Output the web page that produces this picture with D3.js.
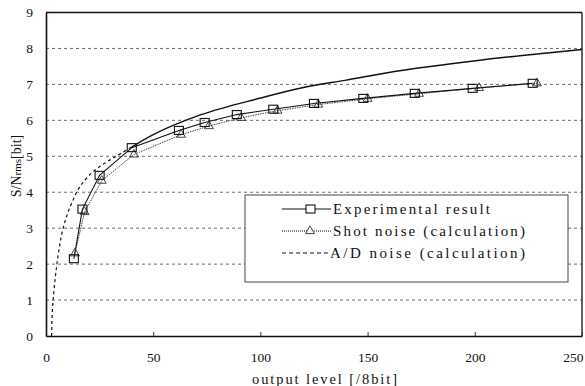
<!DOCTYPE html>
<html>
<head>
<meta charset="utf-8">
<script src="https://cdn.jsdelivr.net/npm/d3@7"></script>
<style>
  body { margin: 0; background: #fff; }
  text { font-family: "Liberation Serif", "Times New Roman", "DejaVu Serif", serif; fill: #111; }
</style>
</head>
<body>
<div id="chart"></div>
<script>
const expX  = [13, 17, 25, 40, 62, 74, 89, 106, 125, 148, 172, 199, 227];
const expY  = [2.15, 3.53, 4.47, 5.24, 5.72, 5.94, 6.16, 6.31, 6.47, 6.61, 6.75, 6.89, 7.03];

const shotX = [13.5, 18, 26, 41, 63, 76, 91, 108, 127, 150, 174, 202, 229];
const shotY = [2.3, 3.45, 4.32, 5.05, 5.6, 5.84, 6.07, 6.27, 6.44, 6.6, 6.74, 6.9, 7.03];

const adX = [2.6, 3.0, 4.2, 5.8, 8, 12, 17, 24, 31, 39, 50, 72, 100, 119, 140, 165, 190, 212, 235, 250];
const adY = [0, 0.72, 1.55, 2.3, 3.0, 3.7, 4.25, 4.67, 4.94, 5.22, 5.6, 6.15, 6.62, 6.9, 7.12, 7.38, 7.58, 7.74, 7.88, 7.97];
const adDashedUpTo = 39;   // the A/D curve looks dashed below this level, solid above

const xTicks = [0, 50, 100, 150, 200, 250];
const yTicks = [0, 1, 2, 3, 4, 5, 6, 7, 8, 9];
const gridY  = [1, 2, 3, 4, 5, 6, 7, 8];

const legendItems = [
  {label: "Experimental result",     marker: "square",   dash: null,  len: 157},
  {label: "Shot noise (calculation)", marker: "triangle", dash: "1,1", len: 192},
  {label: "A/D noise (calculation)",  marker: null,       dash: "4,3", len: 195}
];

const MARGIN = {top: 12.5, right: 3, bottom: 50, left: 46},
    WIDTH = 585 - MARGIN.left - MARGIN.right,
    HEIGHT = 386 - MARGIN.top - MARGIN.bottom;

const svg = d3.select("#chart")
  .append("svg")
    .attr("width", 585)
    .attr("height", 386)
  .append("g")
    .attr("transform", "translate(" + MARGIN.left + "," + MARGIN.top + ")");

const x = d3.scaleLinear().domain([0, 250]).range([0, WIDTH]);
const y = d3.scaleLinear().domain([0, 9]).range([HEIGHT, 0]);

// grid lines
svg.selectAll(".grid")
  .data(gridY)
  .join("line")
    .attr("class", "grid")
    .attr("x1", 0).attr("x2", WIDTH)
    .attr("y1", d => y(d)).attr("y2", d => y(d))
    .attr("stroke", "#444")
    .attr("stroke-width", 0.8)
    .attr("stroke-dasharray", "3,3");

// frame: top and right
svg.append("line")
  .attr("x1", 0).attr("x2", WIDTH).attr("y1", 0).attr("y2", 0)
  .attr("stroke", "#111").attr("stroke-width", 1.6);
svg.append("line")
  .attr("x1", WIDTH).attr("x2", WIDTH).attr("y1", 0).attr("y2", HEIGHT)
  .attr("stroke", "#111").attr("stroke-width", 1.3);

// axes
const xAxis = svg.append("g")
  .attr("transform", "translate(0," + HEIGHT + ")")
  .call(d3.axisBottom(x).tickValues(xTicks).tickSize(-4).tickPadding(16).tickSizeOuter(0));
const yAxis = svg.append("g")
  .call(d3.axisLeft(y).tickValues(yTicks).tickSize(0).tickPadding(13));

[xAxis, yAxis].forEach(a => {
  a.attr("font-family", null);
  a.select(".domain").attr("stroke", "#111").attr("stroke-width", 1.6);
  a.selectAll(".tick line").attr("stroke", "#333");
  a.selectAll(".tick text")
    .style("font-size", "13.5px")
    .attr("fill", "#111");
});
// last x label sits flush with the right edge
xAxis.selectAll(".tick text").filter(d => d === 250).attr("text-anchor", "end").attr("dx", "1px");

// A/D noise curve
const adData = adX.map((v, i) => ({x: v, y: adY[i]}));
const line = d3.line().x(d => x(d.x)).y(d => y(d.y)).curve(d3.curveMonotoneX);
const lineY = d3.line().x(d => x(d.x)).y(d => y(d.y)).curve(d3.curveMonotoneY);

svg.append("path")
  .datum(adData.filter(d => d.x <= adDashedUpTo))
  .attr("d", lineY)
  .attr("fill", "none")
  .attr("stroke", "#111")
  .attr("stroke-width", 1.2)
  .attr("stroke-dasharray", "3,3");
svg.append("path")
  .datum(adData.filter(d => d.x >= adDashedUpTo))
  .attr("d", line)
  .attr("fill", "none")
  .attr("stroke", "#111")
  .attr("stroke-width", 1.4);

// shot noise
const shotData = shotX.map((v, i) => ({x: v, y: shotY[i]}));
svg.append("path")
  .datum(shotData)
  .attr("d", d3.line().x(d => x(d.x)).y(d => y(d.y)))
  .attr("fill", "none")
  .attr("stroke", "#444")
  .attr("stroke-width", 1)
  .attr("stroke-dasharray", "1.5,1");

// experimental
const expData = expX.map((v, i) => ({x: v, y: expY[i]}));
svg.append("path")
  .datum(expData)
  .attr("d", d3.line().x(d => x(d.x)).y(d => y(d.y)))
  .attr("fill", "none")
  .attr("stroke", "#111")
  .attr("stroke-width", 1.1);

const triSym = d3.symbol().type(d3.symbolTriangle).size(34);
svg.selectAll(".tri")
  .data(shotData)
  .join("path")
    .attr("class", "tri")
    .attr("d", triSym)
    .attr("transform", d => "translate(" + x(d.x) + "," + y(d.y) + ")")
    .attr("fill", "none")
    .attr("stroke", "#333")
    .attr("stroke-width", 0.9);

svg.selectAll(".sq")
  .data(expData)
  .join("rect")
    .attr("class", "sq")
    .attr("x", d => x(d.x) - 4.5)
    .attr("y", d => y(d.y) - 4)
    .attr("width", 9)
    .attr("height", 8)
    .attr("fill", "none")
    .attr("stroke", "#111")
    .attr("stroke-width", 1.1);

// legend
const lg = svg.append("g").attr("transform", "translate(" + (245 - MARGIN.left) + "," + (195 - MARGIN.top) + ")");
lg.append("rect")
  .attr("width", 323).attr("height", 87)
  .attr("fill", "#fff")
  .attr("stroke", "#333")
  .attr("stroke-width", 0.9);

legendItems.forEach((it, i) => {
  const cy = 14 + i * 22;
  lg.append("line")
    .attr("x1", 37).attr("x2", 86).attr("y1", cy).attr("y2", cy)
    .attr("stroke", "#111").attr("stroke-width", 1)
    .attr("stroke-dasharray", it.dash);
  if (it.marker === "square") {
    lg.append("rect").attr("x", 61).attr("y", cy - 4).attr("width", 9).attr("height", 8)
      .attr("fill", "#fff").attr("stroke", "#111").attr("stroke-width", 1.1);
  } else if (it.marker === "triangle") {
    lg.append("path").attr("d", triSym).attr("transform", "translate(65," + cy + ")")
      .attr("fill", "#fff").attr("stroke", "#333").attr("stroke-width", 0.9);
  }
  lg.append("text")
    .attr("x", i === 2 ? 85 : 88)
    .attr("y", cy + 5)
    .attr("textLength", it.len)
    .attr("lengthAdjust", "spacing")
    .style("font-size", "15px")
    .text(it.label);
});

// axis titles
svg.append("text")
  .attr("x", 252 - MARGIN.left)
  .attr("y", HEIGHT + 48)
  .attr("textLength", 145)
  .attr("lengthAdjust", "spacing")
  .style("font-size", "14.5px")
  .text("output level [/8bit]");

const yt = svg.append("text")
  .attr("transform", "translate(" + (21 - MARGIN.left) + "," + (166 - MARGIN.top) + ") rotate(-90)")
  .attr("text-anchor", "middle")
  .style("font-size", "14px");
yt.append("tspan").text("S/N");
yt.append("tspan").style("font-size", "11px").text("rms");
yt.append("tspan").text("[bit]");
</script>
</body>
</html>
